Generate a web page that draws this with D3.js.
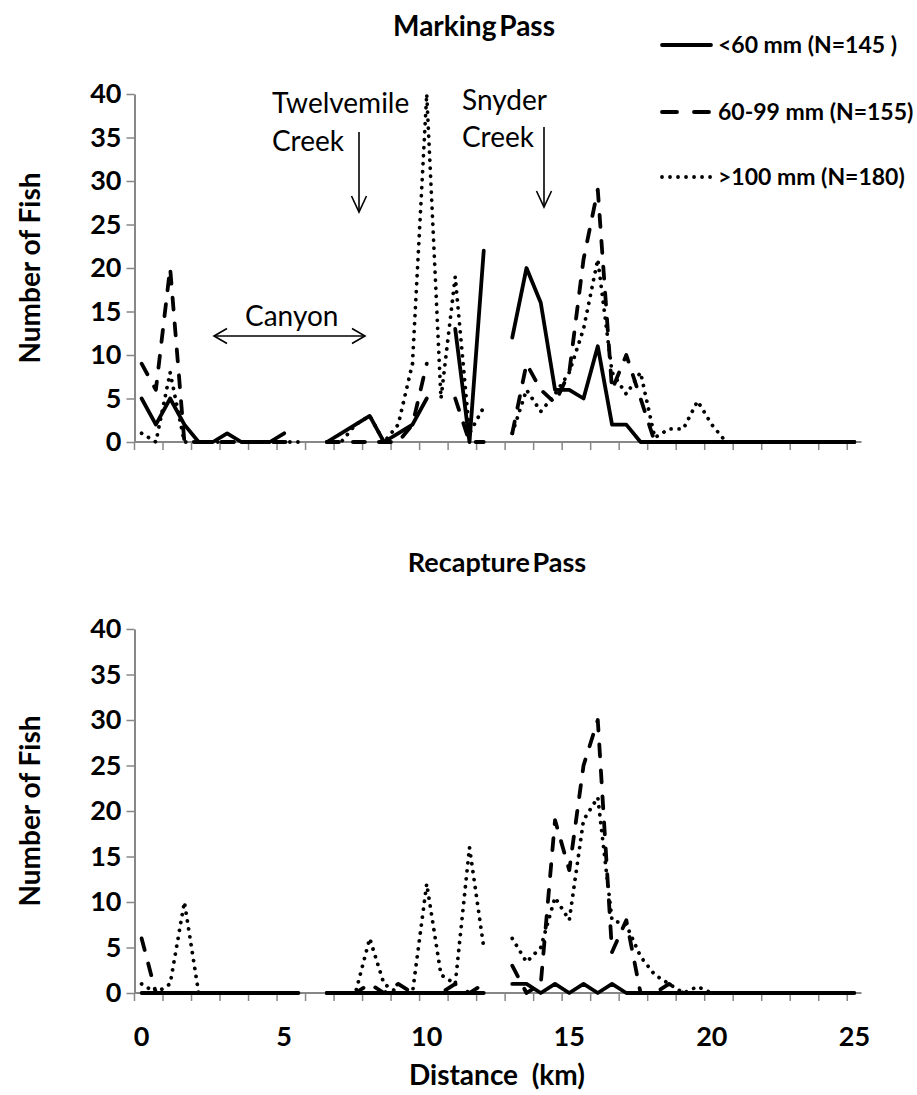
<!DOCTYPE html>
<html>
<head>
  <meta charset="utf-8">
  <title>Marking and Recapture Pass</title>
  <script src="https://d3js.org/d3.v7.min.js"></script>
  <style>
    body { margin: 0; background: #fff; }
    text { font-family: Lato, "Open Sans", sans-serif; }
  </style>
</head>
<body>
  <svg id="chart"></svg>

  <script>
    // distance categories (km), one every 0.5 km
    const km = [0, 0.5, 1, 1.5, 2, 2.5, 3, 3.5, 4, 4.5, 5, 5.5, 6, 6.5, 7, 7.5, 8, 8.5, 9, 9.5,
      10, 10.5, 11, 11.5, 12, 12.5, 13, 13.5, 14, 14.5, 15, 15.5, 16, 16.5, 17, 17.5, 18, 18.5, 19, 19.5,
      20, 20.5, 21, 21.5, 22, 22.5, 23, 23.5, 24, 24.5, 25];

    // marking pass (null = not sampled)
    const markSmall = [5, 2, 5, 2, 0, 0, 1, 0, 0, 0, 1, null, null, 0, 1, 2, 3, 0, 1, 2,
      5, null, 13, 0, 22, null, 12, 20, 16, 6, 6, 5, 11, 2, 2, 0, 0, 0, 0, 0,
      0, 0, 0, 0, 0, 0, 0, 0, 0, 0, 0];
    const markMid = [9, 6, 20, 0, 0, 0, 0, 0, 0, 0, 0, 0, null, 0, 0, 0, 0, 0, 0, 2,
      9, null, 5, 0, 0, null, 1, 9, 6, 4.5, 8, 21, 29, 6, 10, 5, 0, 0, 0, 0,
      0, 0, 0, 0, 0, 0, 0, 0, 0, 0, 0];
    const markLarge = [1, 0, 8, 0, 0, 0, 0, 0, 0, 0, 0, 0, null, 0, 0, 2, 3, 0, 2, 9,
      40, 5, 19, 1, 4, null, 1, 6, 3.5, 5.5, 8, 13, 21, 8, 5.5, 8, 0.5, 1.5, 1.5, 4.7,
      2, 0, 0, 0, 0, 0, 0, 0, 0, 0, 0];

    // recapture pass
    const recapSmall = [0, 0, 0, 0, 0, 0, 0, 0, 0, 0, 0, 0, null, 0, 0, 0, 0, 0, 0, 0,
      0, 0, 0, 0, 0, null, 1, 1, 0, 1, 0, 1, 0, 1, 0, 0, 0, 0, 0, 0,
      0, 0, 0, 0, 0, 0, 0, 0, 0, 0, 0];
    const recapMid = [6, 0, 0, 0, 0, 0, 0, 0, 0, 0, 0, 0, null, 0, 0, 0, 1, 0, 1, 0,
      0, 0, 1, 0, 1, null, 3, 0, 1, 19, 13.5, 25, 30, 4.5, 8, 0, 0, 1, 0, 0,
      0, 0, 0, 0, 0, 0, 0, 0, 0, 0, 0];
    const recapLarge = [1, 0, 1, 10, 0, 0, 0, 0, 0, 0, 0, 0, null, 0, 0, 0, 6, 1, 0, 0,
      12, 2, 1, 16, 5, null, 6, 3.4, 5, 10.5, 8, 19, 21.5, 8, 7.5, 4, 2, 1, 0, 0.7,
      0, 0, 0, 0, 0, 0, 0, 0, 0, 0, 0];

    const seriesNames = ["<60 mm (N=145 )", "60-99 mm (N=155)", ">100 mm (N=180)"];
    const yTicks = [0, 5, 10, 15, 20, 25, 30, 35, 40];
    const xTickLabels = [0, 5, 10, 15, 20, 25];

    const width = 917, height = 1095;
    const svg = d3.select("#chart").attr("width", width).attr("height", height);

    // line styles: solid, long dash, round dot
    const styles = [
      { dash: null, cap: "round" },
      { dash: "12,14", cap: "round" },
      { dash: "0.01,8", cap: "round" }
    ];

    const x = d3.scaleBand().domain(km).range([134.5, 861.5]).padding(0);
    const xc = d => x(d) + x.bandwidth() / 2;

    function panel(top, bottom, series, showLabels) {
      const y = d3.scaleLinear().domain([0, 40]).range([bottom, top]);
      const g = svg.append("g");

      // y axis
      const ya = g.append("g")
        .attr("transform", `translate(${x.range()[0]},0)`)
        .call(d3.axisLeft(y).tickValues(yTicks).tickSize(8).tickSizeOuter(0).tickPadding(5));
      ya.select(".domain").attr("stroke", "#878787").attr("stroke-width", 2);
      ya.selectAll(".tick line").attr("stroke", "#878787").attr("stroke-width", 1.5);
      ya.selectAll(".tick text")
        .attr("font-family", "Lato, sans-serif")
        .attr("font-weight", "bold")
        .attr("font-size", 27)
        .attr("fill", "#000");

      // x axis line and tick marks on category boundaries
      g.append("line")
        .attr("x1", x.range()[0]).attr("x2", x.range()[1])
        .attr("y1", y(0)).attr("y2", y(0))
        .attr("stroke", "#878787").attr("stroke-width", 2);
      g.selectAll(".xtick")
        .data(km.filter((d, i) => i % 2 === 0))
        .enter().append("line")
        .attr("x1", d => x(d)).attr("x2", d => x(d))
        .attr("y1", y(0)).attr("y2", y(0) + 8)
        .attr("stroke", "#878787").attr("stroke-width", 1.5);

      if (showLabels) {
        const xa = g.append("g")
          .attr("transform", `translate(0,${y(0)})`)
          .call(d3.axisBottom(x).tickValues(xTickLabels).tickSize(0).tickPadding(34));
        xa.select(".domain").remove();
        xa.selectAll(".tick text")
          .attr("font-family", "Lato, sans-serif")
          .attr("font-weight", "bold")
          .attr("font-size", 27)
          .attr("fill", "#000");
      }

      const line = d3.line()
        .defined(d => d.v != null)
        .x(d => xc(d.km))
        .y(d => y(d.v));

      series.forEach((vals, s) => {
        g.append("path")
          .datum(vals.map((v, i) => ({ km: km[i], v: v })))
          .attr("d", line)
          .attr("fill", "none")
          .attr("stroke", "#000")
          .attr("stroke-width", 3.8)
          .attr("stroke-linejoin", "round")
          .attr("stroke-linecap", styles[s].cap)
          .attr("stroke-dasharray", styles[s].dash);
      });

      // y axis title
      svg.append("text")
        .attr("transform", `translate(40,${(top + bottom) / 2}) rotate(-90)`)
        .attr("text-anchor", "middle")
        .attr("font-weight", "bold")
        .attr("font-size", 28)
        .text("Number of Fish");
      return y;
    }

    panel(94, 442, [markSmall, markMid, markLarge], false);
    panel(629, 993, [recapSmall, recapMid, recapLarge], true);

    // titles
    svg.append("text").attr("x", 474).attr("y", 36)
      .attr("text-anchor", "middle").attr("font-weight", "bold").attr("font-size", 28)
      .attr("word-spacing", -4)
      .text("Marking Pass");
    svg.append("text").attr("x", 497).attr("y", 572)
      .attr("text-anchor", "middle").attr("font-weight", "bold").attr("font-size", 27)
      .attr("word-spacing", -4)
      .text("Recapture Pass");
    svg.append("text").attr("x", 497).attr("y", 1085)
      .attr("text-anchor", "middle").attr("font-weight", "bold").attr("font-size", 28)
      .attr("xml:space", "preserve")
      .text("Distance  (km)");

    // legend
    const legend = svg.append("g");
    seriesNames.forEach((name, i) => {
      const ly = [45, 112, 177][i];
      legend.append("line")
        .attr("x1", 662).attr("x2", 711).attr("y1", ly).attr("y2", ly)
        .attr("stroke", "#000").attr("stroke-width", 3.8)
        .attr("stroke-linecap", styles[i].cap)
        .attr("stroke-dasharray", i === 1 ? "15,17" : styles[i].dash);
      legend.append("text")
        .attr("x", 718).attr("y", ly + 8)
        .attr("font-weight", "bold").attr("font-size", 23)
        .text(name);
    });

    // annotations
    const note = svg.append("g").attr("font-size", 28);
    note.append("text").attr("x", 272).attr("y", 113).text("Twelvemile");
    note.append("text").attr("x", 272).attr("y", 151).text("Creek");
    note.append("text").attr("x", 462).attr("y", 110).text("Snyder");
    note.append("text").attr("x", 462).attr("y", 147).text("Creek");
    note.append("text").attr("x", 245).attr("y", 326).text("Canyon");

    const arrows = svg.append("g").attr("stroke", "#000").attr("stroke-width", 1.6).attr("fill", "none");
    [[359, 132, 212], [544, 127, 207]].forEach(([ax, y1, y2]) => {
      arrows.append("line").attr("x1", ax).attr("x2", ax).attr("y1", y1).attr("y2", y2);
      arrows.append("path").attr("d", `M${ax - 7.5},${y2 - 16}L${ax},${y2}L${ax + 7.5},${y2 - 16}`);
    });
    arrows.append("line").attr("x1", 214).attr("x2", 365).attr("y1", 336).attr("y2", 336);
    arrows.append("path").attr("d", "M227,328.5L214,336L227,343.5");
    arrows.append("path").attr("d", "M352,328.5L365,336L352,343.5");
  </script>
</body>
</html>
